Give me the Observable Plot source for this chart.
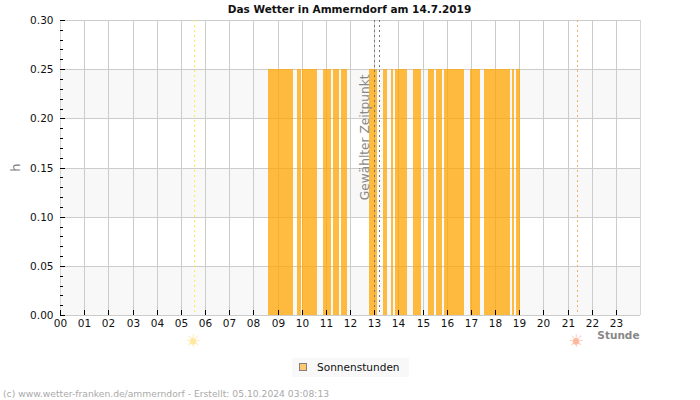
<!DOCTYPE html>
<html><head><meta charset="utf-8">
<script src="https://cdn.jsdelivr.net/npm/d3@7"></script>
<script src="https://cdn.jsdelivr.net/npm/@observablehq/plot@0.6"></script>
<style>
html,body{margin:0;padding:0;background:#fff}
svg{display:block}
#c{position:relative;width:700px;height:400px;font-family:"DejaVu Sans",sans-serif;overflow:hidden}
.t{position:absolute;white-space:nowrap}
</style></head><body><div id="c">
<div class="t" id="title" style="left:0;width:699px;top:2px;text-align:center;font-weight:bold;font-size:10.5px;color:#111;line-height:14px"></div>
<div class="t" id="legendBox" style="left:292px;top:358px;width:117px;height:19px;background:#f8f8f8"></div>
<div class="t" id="swatch" style="left:299px;top:363px;width:6px;height:6px;border:1px solid #808080;background:#fdc870"></div>
<div class="t" id="legend" style="left:317px;top:360px;font-size:10.55px;color:#111;line-height:14px"></div>
<div class="t" id="footer" style="left:3px;top:387px;font-size:9.2px;color:#aaa;line-height:13px"></div>
</div>
<script>
const title = "Das Wetter in Ammerndorf am 14.7.2019";
const footer = "(c) www.wetter-franken.de/ammerndorf - Erstellt: 05.10.2024 03:08:13";
const legendLabel = "Sonnenstunden";
const barStarts = [8.61,9.81,10.02,10.88,11.30,11.63,12.79,13.37,13.70,13.86,14.61,15.23,15.56,15.89,16.97,17.55,18.70,18.87];
const barEnds   = [9.64,9.97,10.64,11.21,11.55,11.88,13.12,13.53,13.78,14.36,14.94,15.47,15.81,16.72,17.38,18.62,18.78,19.03];
const barValue = 0.25;
const bandLows = [0,0.10,0.20];
const bandHighs = [0.05,0.15,0.25];
const hours = d3.range(0,24);
const hourGrid = hours.filter(h=>h>0);
const yMajor = [0,0.05,0.10,0.15,0.20,0.25,0.30];
const yMinor = d3.range(0,31).map(i=>i/100).filter(v=>Math.round(v*100)%5!==0);
const sunrise = 5.545, sunset = 21.39;
const selected = [13.0,13.2];
const bars = barStarts.map((s,i)=>({s,e:barEnds[i]}));
const bands = bandLows.map((l,i)=>({l,h:bandHighs[i]}));
const grid="#cccccc", txt="#111";
const font="DejaVu Sans";
document.getElementById("title").textContent = title;
document.getElementById("legend").textContent = legendLabel;
document.getElementById("footer").textContent = footer;
const plot = Plot.plot({
  width:700,height:400,
  marginLeft:60,marginRight:60,marginTop:20,marginBottom:85,
  style:{fontFamily:font,background:"transparent",overflow:"visible",position:"absolute",left:0,top:0},
  x:{type:"linear",domain:[0,24],axis:null,round:true},
  y:{type:"linear",domain:[0,0.30],axis:null,round:true},
  marks:[
    Plot.rectY(bands,{x1:()=>0,x2:()=>24,y1:"l",y2:"h",fill:"#f8f8f8"}),
    Plot.ruleX(hourGrid,{stroke:grid}),
    Plot.ruleY(yMajor,{stroke:grid}),
    Plot.ruleX([0,24],{stroke:"#d6d6d6"}),
    Plot.rectY(bars,{x1:"s",x2:"e",y1:()=>0,y2:()=>barValue,fill:"#ffa500",fillOpacity:0.75}),
    Plot.ruleX([sunrise],{stroke:"#ffee44",strokeDasharray:"2,3"}),
    Plot.ruleX([sunset],{stroke:"#eeb070",strokeDasharray:"2,3"}),
    Plot.ruleX(selected,{stroke:"#777",strokeDasharray:"2,3"}),
    Plot.axisX(hours,{anchor:"bottom",tickSize:-5,tickPadding:9,stroke:"#000",label:null,tickFormat:d=>String(d).padStart(2,"0"),fontSize:10.5,fill:txt}),
    Plot.axisY(yMajor,{anchor:"left",tickSize:-5,tickPadding:12,stroke:"#000",label:null,tickFormat:d=>d.toFixed(2),fontSize:10.5,fill:txt}),
    Plot.axisY(yMinor,{anchor:"left",tickSize:-3,tickFormat:()=>"",label:null,stroke:"#000"}),
    Plot.text(["Gewählter Zeitpunkt"],{x:()=>selected[0],y:()=>0.30,rotate:-90,textAnchor:"end",fontSize:12.2,fill:"#888",dx:-9,dy:54}),
    Plot.text(["h"],{x:()=>0,y:()=>0.15,rotate:-90,fontSize:13,fill:"#808080",dx:-45,dy:-1}),
    Plot.text(["Stunde"],{x:()=>24,y:()=>0,textAnchor:"end",fontWeight:"bold",fontSize:10.5,fill:"#888",dx:-1,dy:20}),
    Plot.text(["☀"],{x:()=>sunrise,y:()=>0,dy:26,dx:-1.5,fontSize:18,fill:"#ffeab0"}),
    Plot.dot([sunrise],{x:d=>d,y:()=>0,r:3.2,fill:"#ffe9a0",dx:-1.5,dy:26}),
    Plot.text(["☀"],{x:()=>sunset,y:()=>0,dy:26,dx:-1.5,fontSize:18,fill:"#ffc8b4"}),
    Plot.dot([sunset],{x:d=>d,y:()=>0,r:3.2,fill:"#ffb8a0",dx:-1.5,dy:26}),
  ]
});
document.getElementById("c").appendChild(plot);
</script></body></html>
